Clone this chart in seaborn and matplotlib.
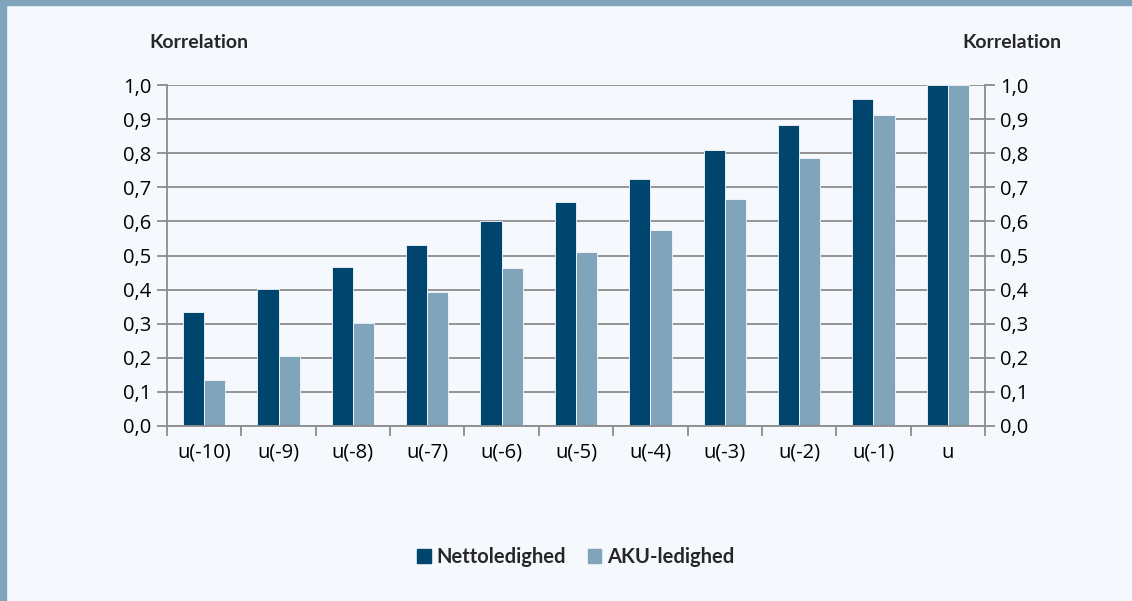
import pandas as pd
import seaborn as sns
import matplotlib.pyplot as plt
from matplotlib.patches import Rectangle
from matplotlib.ticker import FuncFormatter, FixedLocator

kategorier = ["u(-10)", "u(-9)", "u(-8)", "u(-7)", "u(-6)", "u(-5)",
              "u(-4)", "u(-3)", "u(-2)", "u(-1)", "u"]
netto = [0.335, 0.401, 0.465, 0.532, 0.600, 0.657, 0.723, 0.808, 0.883, 0.958, 1.0]
aku = [0.135, 0.205, 0.302, 0.393, 0.462, 0.510, 0.575, 0.667, 0.785, 0.913, 1.0]
serier = ["Nettoledighed", "AKU-ledighed"]

mork = "#00456E"
lys = "#80A4BA"
baggrund = "#F5F9FD"

df = pd.DataFrame({
    "kategori": kategorier * 2,
    "korrelation": netto + aku,
    "serie": [serier[0]] * len(netto) + [serier[1]] * len(aku),
})

sns.set_theme(style="white")
plt.rcParams["font.family"] = ["Open Sans", "DejaVu Sans"]

fig = plt.figure(figsize=(11.32, 6.01), dpi=100, facecolor=baggrund)
ax = fig.add_axes([167 / 1132, 1 - 426 / 601, 818 / 1132, 341 / 601])
ax.set_facecolor(baggrund)

sns.barplot(data=df, x="kategori", y="korrelation", hue="serie",
            palette=[mork, lys], saturation=1, width=0.57, ax=ax, legend=False,
            edgecolor=baggrund, linewidth=0.6)

ax.set_ylim(0, 1.0)
ax.set_xlim(-0.5, len(kategorier) - 0.5)
ax.set_yticks([i / 10 for i in range(11)])
ax.yaxis.set_major_formatter(FuncFormatter(lambda v, p: f"{v:.1f}".replace(".", ",")))
ax.yaxis.grid(True, color="#8C8C8C", linewidth=1.3)
ax.set_axisbelow(True)
ax.set_xlabel("")
ax.set_ylabel("")

# x ticks between categories
ax.xaxis.set_major_locator(FixedLocator([i - 0.5 for i in range(len(kategorier) + 1)]))
ax.set_xticklabels([])
ax.xaxis.set_minor_locator(FixedLocator(list(range(len(kategorier)))))
ax.set_xticklabels(kategorier, minor=True)
ax.tick_params(axis="x", which="major", length=7, width=1.3, color="#8C8C8C", bottom=True)
ax.tick_params(axis="x", which="minor", length=0, labelsize=14.5, pad=12, colors="black")
ax.tick_params(axis="y", length=7, width=1.3, color="#8C8C8C", labelsize=14.5, left=True,
               pad=4, labelcolor="black")

for s in ["left", "bottom"]:
    ax.spines[s].set_color("#8C8C8C")
    ax.spines[s].set_linewidth(1.3)
ax.spines["top"].set_visible(False)
ax.spines["right"].set_visible(False)

ax2 = ax.twinx()
ax2.set_ylim(0, 1.0)
ax2.set_yticks([i / 10 for i in range(11)])
ax2.yaxis.set_major_formatter(FuncFormatter(lambda v, p: f"{v:.1f}".replace(".", ",")))
ax2.tick_params(axis="y", length=7, width=1.3, color="#8C8C8C", labelsize=14.5, right=True,
                pad=4, labelcolor="black")
for s in ["left", "bottom", "top"]:
    ax2.spines[s].set_visible(False)
ax2.spines["right"].set_color("#8C8C8C")
ax2.spines["right"].set_linewidth(1.3)

fig.text(199 / 1132, 1 - 42 / 601, "Korrelation", ha="center", va="center",
         fontsize=14, fontweight="bold", family=["Lato", "DejaVu Sans"])
fig.text(1012 / 1132, 1 - 42 / 601, "Korrelation", ha="center", va="center",
         fontsize=14, fontweight="bold", family=["Lato", "DejaVu Sans"])

# legend
handles = [Rectangle((0, 0), 1, 1, color=mork), Rectangle((0, 0), 1, 1, color=lys)]
fig.legend(handles, serier, loc="center", bbox_to_anchor=(576 / 1132, 1 - 557 / 601),
           ncol=2, frameon=False, handlelength=0.65, handleheight=0.65,
           handletextpad=0.3, columnspacing=1.1,
           prop={"family": ["Lato", "DejaVu Sans"], "weight": "bold", "size": 14.5})

# frame: top band and left border
fig.patches.append(Rectangle((0, 1 - 5 / 601), 1, 5 / 601, transform=fig.transFigure,
                             color=lys, zorder=0))
fig.patches.append(Rectangle((0, 0), 6 / 1132, 1, transform=fig.transFigure,
                             color=lys, zorder=0))

fig.savefig("out.png", dpi=100, facecolor=baggrund)
